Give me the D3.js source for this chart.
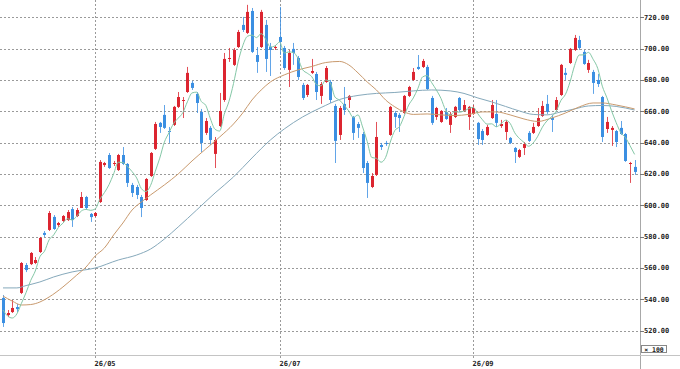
<!DOCTYPE html>
<html>
<head>
<meta charset="utf-8">
<script src="https://cdn.jsdelivr.net/npm/d3@7"></script>
<style>
  html, body { margin: 0; padding: 0; background: #fff; }
  svg { display: block; }
</style>
</head>
<body>
<div id="chart"></div>
<script>
// daily candles (price x 100)
const opens = [
  540.9, 530.0, 531.9, 535.1, 544.1, 561.9, 562.5, 563.2, 570.2, 582.4,
  584.3, 592.6, 587.4, 590.0, 590.6, 597.6, 593.2, 598.3, 605.3, 594.5,
  593.2, 602.1, 625.7, 632.1, 626.4, 622.5, 632.1, 626.4, 613.0, 611.7,
  605.3, 603.4, 618.7, 636.0, 652.6, 657.7, 647.4, 651.3, 662.8, 666.6,
  672.3, 678.1, 671.1, 659.6, 646.2, 649.4, 632.8, 650.6, 667.2, 693.4,
  689.6, 701.0, 715.1, 710.0, 724.0, 695.9, 701.0, 715.1, 701.0, 700.4,
  707.4, 700.4, 686.4, 699.8, 694.0, 676.8, 670.4, 684.5, 683.8, 669.8,
  678.7, 678.7, 663.4, 644.9, 664.7, 667.2, 656.4, 651.9, 645.5, 627.0,
  611.7, 619.4, 638.5, 639.8, 644.9, 658.9, 657.7, 658.9, 669.8, 680.0,
  688.3, 688.3, 688.3, 668.5, 656.4, 653.2, 659.6, 651.3, 656.4, 668.5,
  660.2, 656.4, 658.3, 652.6, 647.4, 644.9, 655.7, 658.3, 650.6, 646.8,
  643.0, 636.6, 630.9, 636.6, 646.2, 646.2, 650.6, 657.0, 664.7, 655.7,
  660.8, 670.4, 684.5, 690.8, 699.1, 705.5, 697.9, 686.4, 685.1, 680.0,
  669.1, 648.7, 648.1, 647.4, 649.4, 645.5, 626.4, 624.5
];
const highs = [
  542.8, 533.2, 539.6, 537.0, 563.8, 563.2, 570.2, 567.0, 579.8, 583.6,
  596.4, 593.8, 589.4, 593.8, 597.0, 598.9, 598.3, 608.5, 606.0, 595.1,
  595.7, 628.9, 627.7, 633.4, 628.3, 632.8, 637.2, 627.0, 614.3, 613.0,
  606.6, 617.4, 634.0, 653.2, 653.2, 664.0, 650.0, 663.4, 672.3, 669.1,
  688.3, 679.4, 672.3, 661.5, 655.7, 650.6, 643.6, 671.7, 697.2, 700.4,
  700.4, 711.9, 720.2, 727.9, 725.9, 701.0, 724.7, 718.3, 703.6, 702.3,
  726.6, 701.7, 699.1, 703.6, 695.3, 678.1, 677.4, 693.4, 685.1, 678.7,
  688.9, 680.0, 664.7, 663.4, 675.5, 670.4, 657.0, 653.2, 646.8, 628.3,
  620.6, 653.2, 639.8, 641.1, 663.4, 660.2, 658.9, 670.4, 676.2, 687.6,
  695.9, 693.4, 689.6, 669.8, 662.8, 660.8, 662.1, 659.6, 663.4, 669.1,
  667.2, 663.4, 664.0, 653.2, 648.7, 651.3, 667.2, 667.2, 654.5, 654.5,
  643.6, 637.2, 636.0, 640.4, 647.4, 652.6, 662.1, 666.6, 670.4, 657.7,
  669.1, 690.2, 687.6, 700.4, 708.7, 708.1, 699.1, 692.8, 686.4, 683.8,
  669.8, 656.4, 650.6, 648.1, 653.8, 646.2, 627.7, 628.9
];
const lows = [
  522.4, 528.7, 531.3, 531.9, 543.4, 557.4, 561.9, 562.5, 569.6, 579.8,
  583.6, 584.3, 586.2, 589.4, 590.0, 586.2, 592.5, 598.3, 597.6, 589.4,
  592.5, 601.5, 624.5, 623.2, 625.1, 621.9, 625.7, 611.7, 605.3, 604.0,
  592.5, 602.8, 618.1, 635.3, 646.2, 648.7, 639.8, 650.6, 662.1, 655.7,
  671.7, 673.6, 658.9, 634.0, 644.9, 638.5, 623.8, 650.0, 666.0, 691.5,
  688.9, 700.4, 710.6, 709.3, 697.2, 684.5, 700.4, 685.1, 682.5, 699.1,
  695.9, 686.4, 675.5, 689.6, 680.0, 667.2, 669.1, 683.8, 667.2, 664.7,
  678.1, 665.3, 627.0, 641.7, 657.7, 662.1, 641.7, 643.0, 620.6, 604.7,
  611.0, 618.7, 635.3, 637.9, 644.3, 649.4, 646.8, 658.3, 669.1, 679.4,
  686.4, 687.6, 673.6, 651.3, 654.5, 652.6, 654.5, 646.2, 655.7, 659.6,
  659.6, 648.1, 657.7, 638.5, 638.5, 644.3, 655.1, 650.0, 649.4, 641.7,
  639.1, 627.0, 630.2, 632.1, 640.4, 645.5, 650.0, 656.4, 658.3, 646.8,
  660.2, 669.8, 680.0, 690.2, 698.5, 699.1, 689.6, 684.5, 671.1, 675.5,
  640.4, 646.2, 637.9, 637.2, 644.9, 627.7, 614.3, 619.4
];
const closes = [
  524.9, 531.3, 534.5, 533.8, 563.2, 558.7, 569.6, 565.1, 579.2, 581.1,
  595.1, 584.9, 588.7, 593.2, 595.7, 590.6, 597.0, 605.3, 598.3, 592.5,
  595.1, 627.7, 627.0, 623.8, 627.0, 632.1, 626.4, 614.3, 607.9, 606.6,
  598.3, 616.8, 633.4, 651.9, 650.0, 649.4, 646.8, 662.8, 669.1, 667.2,
  684.5, 674.9, 665.3, 639.8, 653.8, 641.7, 641.7, 660.2, 693.4, 694.0,
  699.1, 710.6, 711.9, 723.4, 697.9, 691.5, 723.4, 693.4, 699.1, 701.0,
  704.2, 687.6, 697.2, 697.2, 681.9, 668.5, 676.8, 685.7, 672.3, 677.4,
  687.6, 667.2, 641.1, 662.1, 660.8, 669.8, 646.2, 649.4, 623.8, 614.3,
  618.7, 643.6, 637.2, 639.1, 662.8, 656.4, 655.7, 669.8, 675.5, 685.1,
  687.0, 692.1, 674.2, 652.6, 662.1, 660.2, 655.1, 658.3, 662.8, 660.8,
  664.0, 662.8, 662.1, 642.3, 641.7, 650.0, 664.0, 652.6, 651.9, 653.2,
  639.8, 634.0, 635.3, 639.1, 641.1, 650.0, 655.7, 663.4, 659.6, 654.5,
  667.2, 689.6, 683.2, 699.8, 706.8, 700.4, 690.2, 690.8, 678.1, 677.4,
  643.6, 653.2, 649.4, 640.4, 645.5, 628.3, 627.0, 621.3
];

// short moving average (green), one value per candle
const ma5 = [
  533.2, 529.4, 528.1, 530.7, 537.5, 544.3, 552.0, 558.1, 567.2, 570.7,
  578.0, 581.1, 585.8, 588.6, 591.5, 590.6, 593.1, 596.4, 597.4, 596.8,
  597.7, 603.8, 608.1, 613.2, 620.1, 627.5, 627.3, 624.7, 621.5, 617.4,
  610.7, 608.8, 612.6, 621.4, 630.1, 640.3, 646.3, 652.2, 655.6, 659.1,
  666.1, 671.7, 672.2, 666.3, 663.7, 655.1, 648.5, 647.4, 658.2, 666.2,
  677.7, 691.5, 701.8, 707.8, 708.6, 707.0, 709.6, 705.9, 701.0, 701.7,
  704.2, 697.1, 697.9, 697.5, 693.6, 686.5, 684.3, 682.0, 677.0, 676.2,
  680.0, 678.1, 669.1, 667.1, 663.8, 660.2, 656.0, 657.7, 650.0, 640.7,
  630.5, 630.0, 627.5, 630.6, 640.3, 647.8, 650.2, 656.8, 664.0, 668.5,
  674.6, 681.9, 682.8, 678.2, 673.6, 668.2, 660.8, 657.7, 659.7, 659.4,
  660.2, 661.7, 662.5, 658.4, 654.6, 651.8, 652.0, 650.1, 652.0, 654.3,
  652.3, 646.3, 642.7, 640.2, 637.7, 639.8, 644.1, 649.9, 653.9, 656.6,
  660.1, 666.8, 670.8, 678.8, 689.3, 695.9, 696.0, 697.6, 693.2, 687.4,
  676.0, 668.6, 660.3, 652.8, 646.4, 643.3, 638.1, 632.5
];

// medium moving average (orange), read at these candles
const ma25Idx = [0, 2, 4, 6, 8, 10, 13, 16, 18, 20, 22, 24, 26, 28, 30, 32, 35, 38, 41, 44,
  47, 50, 52, 54, 56, 58, 61, 64, 67, 70, 73, 75, 77, 79, 81, 83, 85, 87, 89, 92,
  95, 98, 101, 104, 107, 110, 113, 116, 119, 122, 125, 128, 130, 133, 137];
const ma25 = [542.1, 538.9, 536.4, 536.7, 538.3, 541.5, 547.9, 555.5, 560.6, 567.7,
  572.8, 581.1, 588.7, 597.0, 602.1, 606.6, 613.0, 620.0, 628.3, 636.0,
  643.6, 651.9, 658.9, 667.2, 673.6, 678.7, 683.2, 686.4, 688.6, 691.1,
  691.8, 689.6, 684.5, 678.7, 673.6, 667.2, 662.8, 659.6, 658.0, 658.3,
  657.7, 657.3, 658.0, 659.6, 659.6, 657.7, 655.1, 653.5, 655.7, 658.9,
  662.8, 665.3, 665.3, 664.0, 661.5];

// long moving average (grey blue), read at these candles
const ma75Idx = [0, 3, 5, 8, 11, 15, 20, 25, 29, 32, 35, 38, 42, 46, 50, 54, 58, 61, 65, 69,
  73, 77, 81, 85, 89, 93, 97, 100, 103, 106, 109, 112, 115, 118, 121, 124, 127, 130, 133, 137];
const ma75 = [547.3, 547.3, 548.8, 551.1, 554.3, 557.5, 560.0, 565.1, 568.3, 572.1,
  578.5, 586.2, 597.0, 607.9, 618.1, 630.2, 641.7, 648.7, 656.4, 662.4,
  667.5, 670.1, 671.4, 672.0, 673.0, 673.6, 673.0, 671.4, 668.5, 666.0,
  663.1, 660.2, 658.0, 657.7, 659.6, 661.5, 663.4, 663.7, 663.1, 660.8];

const tickIdx = [20, 60, 102];
const tickLabels = ["26/05", "26/07", "26/09"];
const yTicks = [520, 540, 560, 580, 600, 620, 640, 660, 680, 700, 720];

const W = 680, H = 369;
const plotR = 640, plotB = 355;
const upColor = "#dc2530", downColor = "#3b8fe2";
const font = "'DejaVu Sans Mono', monospace";

const svg = d3.select("#chart").append("svg")
    .attr("width", W)
    .attr("height", H);

const x = d3.scaleBand()
    .domain(d3.range(opens.length))
    .range([0.7, 636.9]);
const cx = i => Math.round(x(i) + x.bandwidth() / 2);

const y = d3.scaleLinear()
    .domain([504.5, 731])
    .range([plotB, 0]);

svg.append("clipPath").attr("id", "plot")
  .append("rect").attr("x", 0).attr("y", 0).attr("width", plotR).attr("height", plotB);

// grid
const grid = svg.append("g")
    .attr("stroke", "#9a9a9a")
    .attr("stroke-width", 1)
    .attr("stroke-dasharray", "2,2")
    .attr("shape-rendering", "crispEdges");

grid.selectAll("line.h").data(yTicks).enter().append("line")
    .attr("x1", 0).attr("x2", plotR)
    .attr("y1", d => Math.round(y(d)) + 0.5)
    .attr("y2", d => Math.round(y(d)) + 0.5);

grid.selectAll("line.v").data(tickIdx).enter().append("line")
    .attr("x1", d => cx(d) + 0.5).attr("x2", d => cx(d) + 0.5)
    .attr("y1", 0).attr("y2", plotB + 5);

// candles
const g = svg.append("g").attr("clip-path", "url(#plot)");
const idx = d3.range(opens.length);
const col = i => closes[i] >= opens[i] ? upColor : downColor;

g.append("g").selectAll("line").data(idx).enter().append("line")
    .attr("x1", i => cx(i) + 0.5).attr("x2", i => cx(i) + 0.5)
    .attr("y1", i => y(highs[i])).attr("y2", i => y(lows[i]))
    .attr("stroke", col)
    .attr("stroke-opacity", 0.8)
    .attr("stroke-width", 1);

g.append("g").selectAll("rect").data(idx).enter().append("rect")
    .attr("x", i => cx(i) - 1)
    .attr("width", 3)
    .attr("y", i => y(Math.max(opens[i], closes[i])))
    .attr("height", i => Math.max(1, Math.abs(y(opens[i]) - y(closes[i]))))
    .attr("fill", col);

// moving averages
const lineOf = (xs, vs) => d3.line()
    .x((d, k) => x(xs[k]) + x.bandwidth() / 2)
    .y(d => y(d))
    .curve(d3.curveMonotoneX)(vs);

g.append("path").attr("d", lineOf(ma75Idx, ma75))
    .attr("fill", "none").attr("stroke", "#86a9bb").attr("stroke-width", 1);
g.append("path").attr("d", lineOf(ma25Idx, ma25))
    .attr("fill", "none").attr("stroke", "#c99a6e").attr("stroke-width", 1);
g.append("path").attr("d", lineOf(idx, ma5))
    .attr("fill", "none").attr("stroke", "#84c7a6").attr("stroke-width", 1);

// axis lines
svg.append("line")
    .attr("x1", plotR + 0.5).attr("x2", plotR + 0.5)
    .attr("y1", 0).attr("y2", H)
    .attr("stroke", "#a8a8a8");
svg.append("line")
    .attr("x1", 0).attr("x2", W)
    .attr("y1", plotB + 0.5).attr("y2", plotB + 0.5)
    .attr("stroke", "#c4c4c4");

// y labels
const yl = svg.append("g");
yl.selectAll("line").data(yTicks).enter().append("line")
    .attr("x1", plotR).attr("x2", plotR + 4)
    .attr("y1", d => Math.round(y(d)) + 0.5)
    .attr("y2", d => Math.round(y(d)) + 0.5)
    .attr("stroke", "#777");
yl.selectAll("text").data(yTicks).enter().append("text")
    .attr("x", plotR + 4)
    .attr("y", d => y(d))
    .attr("dy", "0.35em")
    .attr("font-family", font)
    .attr("font-size", 7)
    .attr("font-weight", "bold")
    .attr("fill", "#222")
    .text(d => d3.format(".2f")(d));

// x labels
svg.append("g").selectAll("text").data(tickIdx).enter().append("text")
    .attr("x", d => cx(d) - 0.5)
    .attr("y", 366)
    .attr("font-family", font)
    .attr("font-size", 7)
    .attr("font-weight", "bold")
    .attr("fill", "#222")
    .text((d, k) => tickLabels[k]);

// unit box
svg.append("rect")
    .attr("x", 641.5).attr("y", 345.5)
    .attr("width", 25).attr("height", 7)
    .attr("fill", "#fff").attr("stroke", "#888");
svg.append("text")
    .attr("x", 654).attr("y", 351.5)
    .attr("text-anchor", "middle")
    .attr("font-family", font)
    .attr("font-size", 6.5)
    .attr("font-weight", "bold")
    .attr("fill", "#222")
    .text("× 100");
</script>
</body>
</html>
